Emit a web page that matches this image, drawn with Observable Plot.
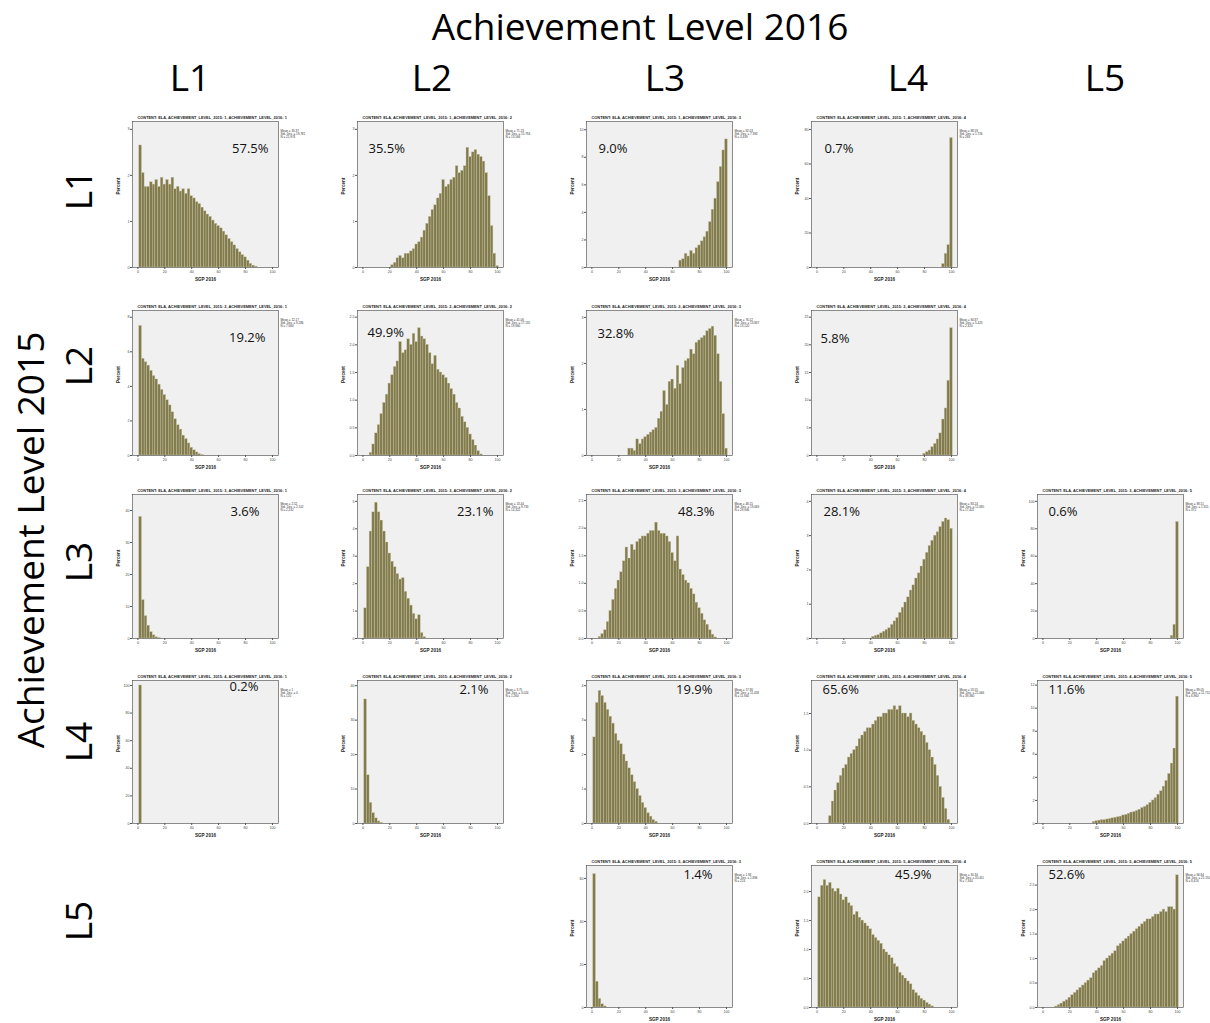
<!DOCTYPE html>
<html>
<head>
<meta charset="utf-8">
<script src="https://cdn.jsdelivr.net/npm/d3@7"></script>
<script src="https://cdn.jsdelivr.net/npm/@observablehq/plot@0.6"></script>
<style>
  html, body { margin: 0; padding: 0; background: #fff; }
  #root { position: relative; width: 1210px; height: 1023px; overflow: hidden; background: #fff; }
  .panel { position: absolute; }
  .panel svg { max-width: none !important; }
  #overlay { position: absolute; left: 0; top: 0; pointer-events: none; }
</style>
</head>
<body>
<div id="root"></div>
<script>
// ---------------- DATA ----------------
const levels2015 = ["L1", "L2", "L3", "L4", "L5"];
const levels2016 = ["L1", "L2", "L3", "L4", "L5"];
const xTicks = [0, 20, 40, 60, 80, 100];
const binWidth = 2; // SGP points per histogram bin

// Percent of students in each 2-point SGP 2016 bin (first bin = panel start)
const L1_L1 = [2.65,2.05,1.75,1.75,1.85,1.8,1.9,1.75,1.95,1.8,1.9,1.8,1.95,1.7,1.75,1.65,1.7,1.6,1.7,1.55,1.5,1.42,1.38,1.3,1.22,1.15,1.1,1.02,0.95,0.9,0.85,0.78,0.7,0.62,0.55,0.48,0.4,0.33,0.27,0.22,0.15,0.08,0.04,0.02];
const L1_L2 = [0.05,0.1,0.2,0.25,0.2,0.3,0.3,0.35,0.4,0.5,0.55,0.65,0.8,0.95,1.1,1.25,1.35,1.5,1.6,1.9,1.75,1.8,1.9,1.95,2.2,2.05,2.1,2.2,2.6,2.4,2.5,2.55,2.45,2.4,2.3,2.05,1.55,0.9,0.3,0.03];
const L1_L3 = [0.5,0.6,1.0,0.8,1.2,1.0,1.4,1.6,1.9,2.2,2.6,3.3,4.2,5.0,6.2,7.3,8.5,9.3];
const L1_L4 = [2,8,13,75];
const L2_L1 = [7.5,5.6,5.4,5.2,4.9,4.6,4.4,4.1,3.8,3.5,3.2,2.9,2.5,2.1,1.75,1.5,1.15,0.95,0.7,0.45,0.3,0.18,0.08,0.03];
const L2_L2 = [0.05,0.2,0.4,0.55,0.75,0.95,1.1,1.3,1.45,1.6,1.7,2.05,1.85,1.9,2.1,2.0,2.2,2.05,2.3,2.15,2.1,2.0,1.85,1.65,1.8,1.55,1.5,1.45,1.4,1.3,1.2,1.1,0.95,0.85,0.7,0.6,0.5,0.38,0.28,0.18,0.08,0.02];
const L2_L3 = [0.15,0.15,0.1,0.35,0.25,0.35,0.4,0.45,0.5,0.55,0.6,0.8,0.95,1.4,1.1,1.6,1.65,1.45,1.95,1.55,1.9,2.05,2.1,2.3,2.2,2.45,2.5,2.55,2.6,2.7,2.75,2.8,2.6,2.2,1.6,0.9,0.15];
const L2_L4 = [0.3,0.6,0.9,1.5,2.1,2.9,4.0,6.5,8.5,13.5,23];
const L3_L1 = [38,12,7,4,2,1,0.4,0.15];
const L3_L2 = [1.1,2.6,3.9,4.6,4.95,4.6,4.3,3.9,3.5,3.1,2.8,2.6,2.35,2.15,2.2,1.7,1.45,1.2,0.9,0.7,0.85,0.2,0.05];
const L3_L3 = [0.03,0.08,0.15,0.3,0.5,0.7,0.9,1.05,1.2,1.4,1.65,1.45,1.7,1.6,1.75,1.8,1.85,1.85,1.9,1.95,1.95,2.1,1.95,1.9,1.9,1.85,1.75,1.55,1.4,1.85,1.25,1.15,1.05,1.0,0.9,0.8,0.65,0.55,0.45,0.33,0.25,0.15,0.07,0.02];
const L3_L4 = [0.05,0.08,0.1,0.15,0.2,0.25,0.3,0.4,0.5,0.6,0.75,0.9,1.05,1.2,1.4,1.55,1.75,1.9,2.1,2.3,2.5,2.7,2.85,3.0,3.1,3.25,3.4,3.5,3.45,3.2];
const L3_L5 = [2,10,85];
const L4_L1 = [100];
const L4_L2 = [36,14,6,3,1.5,0.6,0.2];
const L4_L3 = [2.5,3.5,3.85,3.7,3.5,3.3,3.1,2.9,2.6,2.4,2.3,2.0,1.8,1.6,1.4,1.2,1.0,0.8,0.6,0.45,0.3,0.2,0.1,0.05];
const L4_L4 = [0.1,0.3,0.45,0.55,0.65,0.75,0.8,0.9,0.95,1.0,1.05,1.15,1.2,1.25,1.3,1.3,1.35,1.4,1.45,1.45,1.5,1.5,1.55,1.55,1.6,1.55,1.6,1.5,1.5,1.45,1.5,1.4,1.35,1.3,1.25,1.2,1.1,1.0,0.9,0.8,0.65,0.5,0.35,0.2,0.05];
const L4_L5 = [0.15,0.2,0.25,0.3,0.3,0.35,0.4,0.45,0.5,0.55,0.6,0.7,0.75,0.85,0.95,1.0,1.1,1.2,1.35,1.45,1.6,1.8,2.0,2.2,2.5,2.8,3.2,3.7,4.3,5.2,6.5,11.0];
const L5_L3 = [62,12,4,1.5,0.5];
const L5_L4 = [1.9,2.1,2.2,2.1,2.15,2.05,2.0,2.05,1.95,1.85,1.9,1.8,1.75,1.6,1.65,1.55,1.5,1.45,1.4,1.35,1.25,1.2,1.15,1.1,1.0,0.95,0.9,0.85,0.75,0.7,0.6,0.55,0.5,0.45,0.4,0.3,0.25,0.2,0.15,0.12,0.08,0.05,0.02];
const L5_L5 = [0.02,0.05,0.08,0.12,0.15,0.2,0.25,0.3,0.35,0.4,0.45,0.5,0.55,0.6,0.7,0.75,0.8,0.85,0.95,1.0,1.05,1.1,1.15,1.25,1.3,1.35,1.4,1.45,1.5,1.55,1.6,1.65,1.7,1.75,1.8,1.8,1.85,1.9,1.9,1.95,2.0,1.95,2.05,2.05,2.0,2.7];

// panel order: [row 2015, col 2016]
const panelCells = [[0,0],[0,1],[0,2],[0,3],[1,0],[1,1],[1,2],[1,3],[2,0],[2,1],[2,2],[2,3],[2,4],[3,0],[3,1],[3,2],[3,3],[3,4],[4,2],[4,3],[4,4]];
const panelSeries = [L1_L1,L1_L2,L1_L3,L1_L4,L2_L1,L2_L2,L2_L3,L2_L4,L3_L1,L3_L2,L3_L3,L3_L4,L3_L5,L4_L1,L4_L2,L4_L3,L4_L4,L4_L5,L5_L3,L5_L4,L5_L5];
const panelStarts = [1,21,65,93, 1,5,27,79, 1,1,5,41,95, 1,1,1,9,37, 1,1,9];
const panelShares = ["57.5%","35.5%","9.0%","0.7%","19.2%","49.9%","32.8%","5.8%","3.6%","23.1%","48.3%","28.1%","0.6%","0.2%","2.1%","19.9%","65.6%","11.6%","1.4%","45.9%","52.6%"];
const panelYMax = [3.17,3.17,10.6,84.6, 8.39,2.62,3.15,26.2, 45,5.25,2.61,4.2,105, 103.6,41.5,4.15,1.95,12.4, 66,2.45,2.9];
const panelYTicks = [
  [0,1,2,3],[0,1,2,3],[0,2,4,6,8,10],[0,20,40,60,80],
  [0,2,4,6,8],[0,0.5,1,1.5,2,2.5],[0,1,2,3],[0,5,10,15,20,25],
  [0,10,20,30,40],[0,1,2,3,4,5],[0,0.5,1,1.5,2,2.5],[0,1,2,3,4],[0,20,40,60,80,100],
  [0,20,40,60,80,100],[0,10,20,30,40],[0,1,2,3,4],[0,0.5,1,1.5],[0,2,4,6,8,10,12],
  [0,20,40,60],[0,0.5,1,1.5,2],[0,0.5,1,1.5,2,2.5]
];
const panelStats = [
  "Mean = 30.37\nStd. Dev. = 19.781\nN = 21,974","Mean = 71.23\nStd. Dev. = 15.794\nN = 13,566","Mean = 92.03\nStd. Dev. = 7.393\nN = 3,439","Mean = 98.59\nStd. Dev. = 1.726\nN = 268",
  "Mean = 12.17\nStd. Dev. = 9.286\nN = 7,680","Mean = 41.06\nStd. Dev. = 17.135\nN = 19,960","Mean = 76.52\nStd. Dev. = 13.847\nN = 13,120","Mean = 94.87\nStd. Dev. = 5.423\nN = 2,320",
  "Mean = 2.52\nStd. Dev. = 2.102\nN = 2,232","Mean = 13.44\nStd. Dev. = 9.733\nN = 14,322","Mean = 48.15\nStd. Dev. = 19.069\nN = 29,946","Mean = 83.24\nStd. Dev. = 12.085\nN = 17,422","Mean = 98.51\nStd. Dev. = 1.915\nN = 372",
  "Mean = 1\nStd. Dev. = 0\nN = 120","Mean = 3.75\nStd. Dev. = 3.024\nN = 1,260","Mean = 17.36\nStd. Dev. = 11.458\nN = 11,940","Mean = 53.55\nStd. Dev. = 21.066\nN = 39,360","Mean = 89.05\nStd. Dev. = 11.712\nN = 6,960",
  "Mean = 1.93\nStd. Dev. = 1.896\nN = 224","Mean = 30.34\nStd. Dev. = 20.411\nN = 7,344","Mean = 66.84\nStd. Dev. = 21.150\nN = 8,416"
];

// ---------------- LAYOUT ----------------
const colFrameLeft = [132, 357, 586, 811, 1037];
const rowFrameTop = [121, 310, 494, 680, 865];
const rowFrameH = [146, 145, 144, 143, 142];
const frameW = 146;
const ML = 26, MR = 34, MT = 14, MB = 20;
// share label placement: side, horizontal inset, vertical inset
const shareSide = ["right","left","left","left","right","left","left","left","right","right","right","left","left","right","right","right","left","left","right","right","left"];
const shareInsetX = [10,11,12,13,13,10,11,9,19,10,18,12,11,20,15,20,11,11,20,26,11];
const shareInsetY = [22,22,22,22,22,17,18,23,12,12,12,12,12,1,4,4,4,4,4,4,4];

const FONT = "'Open Sans', sans-serif";
const root = document.getElementById("root");

// headers via an SVG overlay
const overlay = d3.select(root).append("svg").attr("id", "overlay")
  .attr("width", 1210).attr("height", 1023)
  .style("font-family", FONT);
overlay.append("text").attr("x", 640).attr("y", 40).attr("text-anchor", "middle")
  .attr("font-size", 37).text("Achievement Level 2016");
const colCenters = [190, 432, 665, 908, 1105];
levels2016.forEach((l, i) => overlay.append("text").attr("x", colCenters[i]).attr("y", 91)
  .attr("text-anchor", "middle").attr("font-size", 37).text(l));
overlay.append("text").attr("transform", "translate(44,540) rotate(-90)")
  .attr("text-anchor", "middle").attr("font-size", 37).text("Achievement Level 2015");
const rowCenters = [190, 366, 562, 742, 921];
levels2015.forEach((l, i) => overlay.append("text").attr("transform", `translate(92,${rowCenters[i]}) rotate(-90)`)
  .attr("text-anchor", "middle").attr("font-size", 37).text(l));

panelSeries.forEach((series, k) => {
  const [r, c] = panelCells[k];
  const start = panelStarts[k];
  const bins = series.map((v, i) => ({x1: start + binWidth * i, x2: start + binWidth * (i + 1), pct: v}));
  const ticks = panelYTicks[k];
  const fmt = ticks.some(t => !Number.isInteger(t)) ? d3.format(".1f") : d3.format("d");
  const fh = rowFrameH[r];
  const side = shareSide[k];
  const title = `CONTENT: ELA, ACHIEVEMENT_LEVEL_2015: ${r + 1}, ACHIEVEMENT_LEVEL_2016: ${c + 1}`;
  const W = ML + frameW + MR, H = MT + fh + MB;

  const chart = Plot.plot({
    width: W,
    height: H,
    marginLeft: ML, marginRight: MR, marginTop: MT, marginBottom: MB,
    style: {background: "transparent", fontFamily: "Arial, 'Liberation Sans', sans-serif", fontSize: "3.6px", overflow: "visible", maxWidth: "none"},
    x: {domain: [-4, 104.5]},
    y: {domain: [0, panelYMax[k]]},
    marks: [
      Plot.frame({fill: "#f0f0f0", stroke: "none"}),
      Plot.rectY(bins, {x1: "x1", x2: "x2", y: "pct", fill: "#827b4e", stroke: "#cdc9aa", strokeWidth: 0.35}),
      Plot.frame({stroke: "#444", strokeWidth: 0.6, fill: "none"}),
      Plot.axisX({ticks: xTicks, tickSize: 2, tickPadding: 1, label: null, stroke: "#555", fill: "#444", tickFormat: d3.format("d")}),
      Plot.axisY({ticks: ticks, tickSize: 2, tickPadding: 1, label: null, stroke: "#555", fill: "#444", tickFormat: fmt}),
      Plot.text([title], {text: d => d, frameAnchor: "top-left", dx: 5, dy: -3, textAnchor: "start", lineAnchor: "bottom", fontWeight: "bold", fontSize: 3.9, fill: "#222"}),
      Plot.text([panelStats[k]], {text: d => d, frameAnchor: "top-right", dx: 2, dy: 8, textAnchor: "start", lineAnchor: "top", fontSize: 3, lineHeight: 1.1, fill: "#333"}),
      Plot.text(["Percent"], {text: d => d, frameAnchor: "left", dx: -14, rotate: -90, fontWeight: "bold", fontSize: 4.6, fill: "#222"}),
      Plot.text(["SGP 2016"], {text: d => d, frameAnchor: "bottom", dy: 13, fontWeight: "bold", fontSize: 4.6, fill: "#222"}),
      Plot.text([panelShares[k]], {
        text: d => d,
        frameAnchor: side === "left" ? "top-left" : "top-right",
        textAnchor: side === "left" ? "start" : "end",
        lineAnchor: "top",
        dx: side === "left" ? shareInsetX[k] : -shareInsetX[k],
        dy: shareInsetY[k],
        fontSize: 13, fontFamily: FONT, fill: "#111"
      })
    ]
  });
  const wrap = document.createElement("div");
  wrap.className = "panel";
  wrap.style.left = (colFrameLeft[c] - ML) + "px";
  wrap.style.top = (rowFrameTop[r] - MT) + "px";
  wrap.style.width = W + "px";
  wrap.style.height = H + "px";
  chart.style.maxWidth = "none";
  chart.setAttribute("width", W);
  chart.setAttribute("height", H);
  wrap.appendChild(chart);
  root.insertBefore(wrap, root.firstChild);
});
</script>
</body>
</html>
